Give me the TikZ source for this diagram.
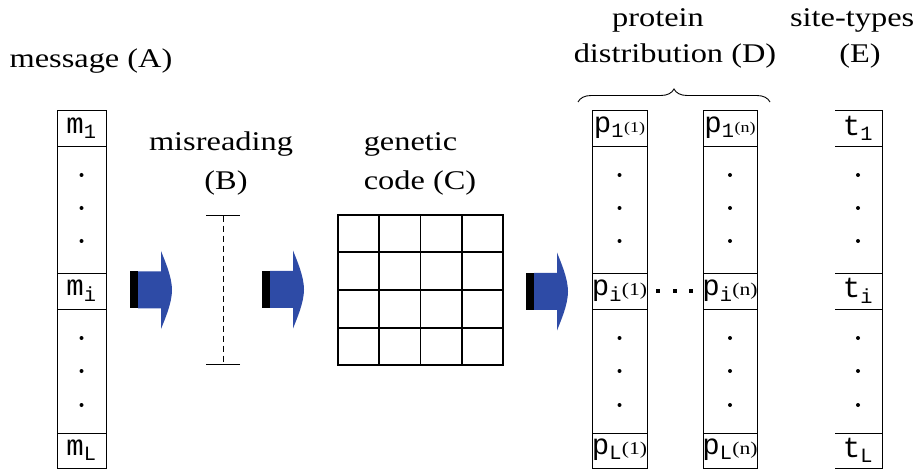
\documentclass[tikz,border=0pt]{standalone}
\usepackage{fontspec}
\setmainfont[FakeStretch=1.2]{Liberation Serif}
\setmonofont{Liberation Mono}
\usetikzlibrary{positioning,arrows.meta,decorations.pathreplacing,calc}
\definecolor{azul}{HTML}{2E4BA6}

\begin{document}
\begin{tikzpicture}[x=1pt, y=-1pt, line width=0.9pt,
    lbl/.style={font=\fontsize{27}{31}\selectfont, anchor=base},
    celda/.style={font=\ttfamily\fontsize{29}{31}\selectfont, inner sep=0pt}]
  \useasboundingbox (0,0) rectangle (919,473);
  % titles
  \node[lbl] (tA) at (91,68) {message (A)};
  \node[lbl] (tB1) at (221,151) {misreading};
  \node[lbl] (tB2) at (226,190) {(B)};
  \node[lbl, anchor=base west] (tC1) at (360,151) {genetic};
  \node[lbl, anchor=base west] (tC2) at (360,190) {code (C)};
  \node[lbl] (tD1) at (658,27) {protein};
  \node[lbl] (tD2) at (675,63) {distribution (D)};
  \node[lbl, anchor=base east] (tE1) at (918,27) {site-types};
  \node[lbl] (tE2) at (860,63) {(E)};
  \draw[decorate, decoration={brace, amplitude=13pt}] (578,102) -- (770,102);

  % columns
  \foreach \x/\w in {81.5/49, 619.5/55, 730/54}{
    \draw (\x-\w/2,110) rectangle (\x+\w/2,468);
    \foreach \y in {146,273,309,433} \draw (\x-\w/2,\y) -- (\x+\w/2,\y);
    \foreach \y in {175,208,241,338,371,405} \fill (\x,\y) circle[radius=2pt];
  }
  \draw (835,110) -- (882,110) -- (882,468) -- (835,468);
  \foreach \y in {146,273,309,433} \draw (835,\y) -- (882,\y);
  \foreach \y in {175,208,241,338,371,405} \fill (858,\y) circle[radius=2pt];

  \node[celda] (m1) at (81.5,128) {m\textsubscript{1}};
  \node[celda] (mi) at (81.5,291) {m\textsubscript{i}};
  \node[celda] (mL) at (81.5,450) {m\textsubscript{L}};
  \node[celda] (pa1) at (619.5,128) {p\textsubscript{1}{\rmfamily\fontsize{15}{15}\selectfont(1)}};
  \node[celda] (pai) at (619.5,291) {p\textsubscript{i}{\rmfamily\fontsize{18}{18}\selectfont(1)}};
  \node[celda] (paL) at (619.5,450) {p\textsubscript{L}{\rmfamily\fontsize{18}{18}\selectfont(1)}};
  \node[celda] (pn1) at (730,128) {p\textsubscript{1}{\rmfamily\fontsize{15}{15}\selectfont(n)}};
  \node[celda] (pni) at (730,291) {p\textsubscript{i}{\rmfamily\fontsize{18}{18}\selectfont(n)}};
  \node[celda] (pnL) at (730,450) {p\textsubscript{L}{\rmfamily\fontsize{18}{18}\selectfont(n)}};
  \node[celda] (t1) at (858,128) {t\textsubscript{1}};
  \node[celda] (ti) at (858,291) {t\textsubscript{i}};
  \node[celda] (tL) at (858,450) {t\textsubscript{L}};
  \foreach \x in {658,675,691} \fill (\x-2,289) rectangle ++(4,4);

  % misreading bar
  \coordinate (bsup) at (223,215);
  \coordinate (binf) at (223,365);
  \draw[dash pattern=on 6pt off 4pt, {Bar[width=34pt]}-{Bar[width=34pt]}] (bsup) -- (binf);

  % genetic code table
  \node[draw, line width=1.4pt, minimum width=165pt, minimum height=150pt, inner sep=0pt] (tabla) at (420.5,290) {};
  \foreach \f in {0.25,0.5,0.75}{
    \draw[line width=1.4pt] ($(tabla.north west)!\f!(tabla.north east)$) -- ($(tabla.south west)!\f!(tabla.south east)$);
    \draw[line width=1.4pt] ($(tabla.north west)!\f!(tabla.south west)$) -- ($(tabla.north east)!\f!(tabla.south east)$);
  }

  % block arrows
  \newcommand{\flecha}[2]{
    \fill (#1,#2-18.5) rectangle (#1+8,#2+18.5);
    \fill[azul] (#1+8,#2-18.5) -- (#1+31,#2-18.5) -- (#1+31,#2-39)
      .. controls (#1+35,#2-29) and (#1+42,#2-13) .. (#1+42,#2)
      .. controls (#1+42,#2+13) and (#1+35,#2+29) .. (#1+31,#2+39)
      -- (#1+31,#2+18.5) -- (#1+8,#2+18.5) -- cycle;}
  \flecha{130}{290}
  \flecha{262}{289.5}
  \flecha{526}{291.5}
\end{tikzpicture}
\end{document}
